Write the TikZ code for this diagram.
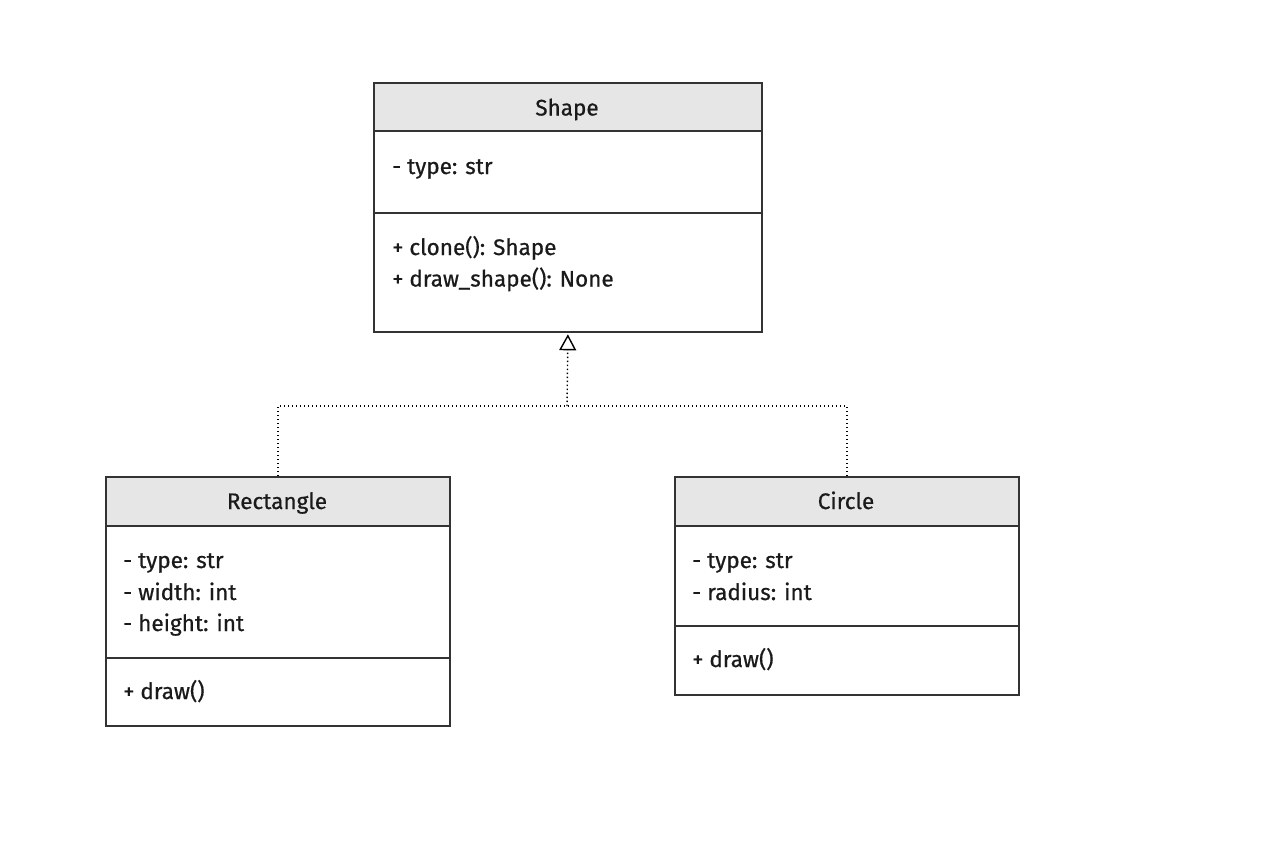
\documentclass[tikz,border=0pt]{standalone}
\usepackage{fontspec}
\setmainfont{Fira Sans}
\newfontfamily\umlfont{Fira Sans}[FakeBold=0.6]
\usetikzlibrary{arrows.meta}
\definecolor{headfill}{HTML}{E6E6E6}
\definecolor{linecol}{HTML}{333333}
\definecolor{txtcol}{HTML}{1A1A1A}
\begin{document}
\begin{tikzpicture}[x=1pt,y=-1pt,
  umlbox/.style={draw=linecol, line width=1.8pt, rectangle, inner sep=0pt, anchor=north west},
  divider/.style={draw=linecol, line width=1.8pt},
  headtxt/.style={anchor=base, inner sep=0pt, text=txtcol, font=\umlfont\fontsize{22.5}{26}\selectfont},
  membertxt/.style={anchor=base west, inner sep=0pt, text=txtcol, font=\umlfont\fontsize{22.5}{26}\selectfont},
  dotline/.style={draw=black, line width=1.4pt, dash pattern=on 1.4pt off 2.6pt},
  realize/.style={-{Triangle[open, length=16pt, width=17pt, line width=1.4pt]}}
]
\useasboundingbox[fill=white] (0,0) rectangle (1264,862);

% Shape
\fill[headfill] (373,82) rectangle (761,131);
\node[umlbox, minimum width=388pt, minimum height=249pt] (shape) at (373,82) {};
\draw[divider] (373,131) -- (761,131);
\draw[divider] (373,213) -- (761,213);
\node[headtxt] (shapeT) at (567,115.5) {Shape};
\node[membertxt] (shapeA1) at (392,174) {- type: str};
\node[membertxt] (shapeM1) at (392,255) {+ clone(): Shape};
\node[membertxt] (shapeM2) at (392,286.5) {+ draw\_shape(): None};

% Rectangle
\fill[headfill] (105,476) rectangle (449,526);
\node[umlbox, minimum width=344pt, minimum height=249pt] (rect) at (105,476) {};
\draw[divider] (105,526) -- (449,526);
\draw[divider] (105,658) -- (449,658);
\node[headtxt] (rectT) at (277,509) {Rectangle};
\node[membertxt] (rectA1) at (123,568) {- type: str};
\node[membertxt] (rectA2) at (123,600) {- width: int};
\node[membertxt] (rectA3) at (123,631) {- height: int};
\node[membertxt] (rectM1) at (123,699) {+ draw()};

% Circle
\fill[headfill] (674,476) rectangle (1018,526);
\node[umlbox, minimum width=344pt, minimum height=218pt] (circ) at (674,476) {};
\draw[divider] (674,526) -- (1018,526);
\draw[divider] (674,626) -- (1018,626);
\node[headtxt] (circT) at (846,509) {Circle};
\node[membertxt] (circA1) at (692,568) {- type: str};
\node[membertxt] (circA2) at (692,600) {- radius: int};
\node[membertxt] (circM1) at (692,667) {+ draw()};

% connectors
\coordinate (junc) at (567,406);
\draw[dotline] (rect.north) |- (junc) -| (circ.north);
\draw[dotline, realize, shorten >=1.5pt] (junc) -- (shape.south);
\end{tikzpicture}
\end{document}
